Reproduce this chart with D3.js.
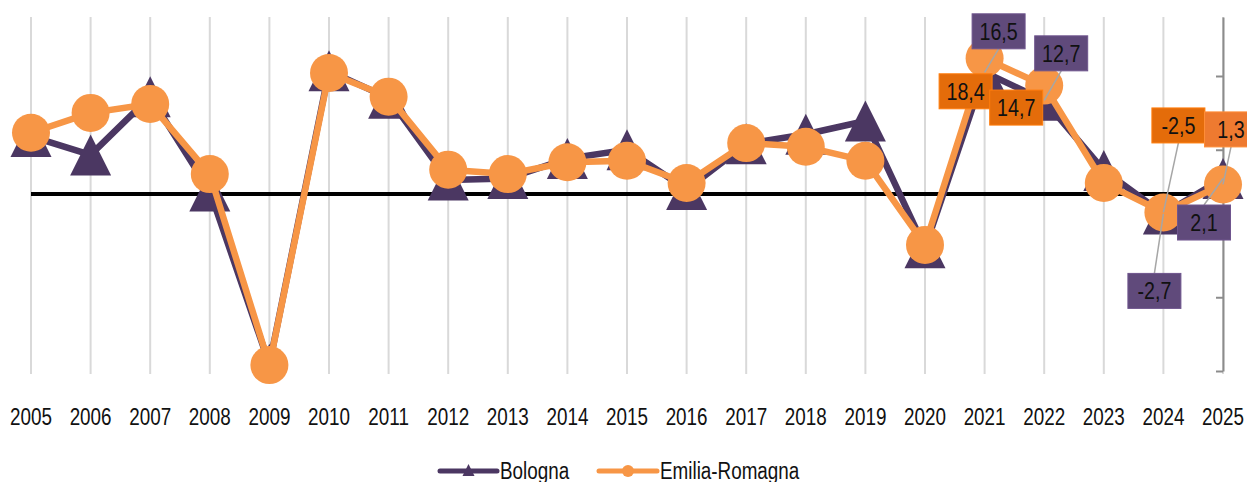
<!DOCTYPE html>
<html>
<head>
<meta charset="utf-8">
<script src="https://cdn.jsdelivr.net/npm/d3@7"></script>
<style>
  html, body { margin: 0; padding: 0; background: #fff; }
  svg { display: block; }
</style>
</head>
<body>
<div id="chart"></div>
<script>
const years = d3.range(2005, 2026);
const bologna = [7.8, 5.3, 13.2, 0.4, -23.1, 16.7, 13.0, 1.9, 2.1, 4.8, 6.0, 0.6, 6.8, 8.1, 9.9, -7.3, 16.5, 12.7, 3.2, -2.7, 2.1];
const emilia = [8.3, 11.0, 12.2, 2.7, -23.2, 16.4, 13.2, 3.3, 2.7, 4.3, 4.5, 1.5, 6.9, 6.4, 4.5, -6.9, 18.4, 14.7, 1.5, -2.5, 1.3];
const seriesNames = ['Bologna', 'Emilia-Romagna'];
const yTicks = [-24, -14, -4, 6, 16];

// which points carry a data label, and where the box sits relative to the point
const labelled = [
  { s: 0, year: 2021, dx: 14, dy: -41, leader: true },
  { s: 0, year: 2022, dx: 17, dy: -47, leader: true },
  { s: 1, year: 2021, dx: -19, dy: 33, leader: false },
  { s: 1, year: 2022, dx: -28, dy: 22, leader: false },
  { s: 1, year: 2024, dx: 15, dy: -87, leader: true },
  { s: 0, year: 2024, dx: -9, dy: 77, leader: true },
  { s: 0, year: 2025, dx: -19, dy: 44, leader: true },
  { s: 1, year: 2025, dx: 8, dy: -55, leader: true, lighter: true }
];

const W = 1247, H = 482;
const purple = '#4b3762', orange = '#f79646';
const boxPurple = '#604a7b', boxOrange = '#e46c0a', boxOrangeLight = '#ee7a30';

// narrow font if we have one, else squeeze the regular one
function hasFont(name) {
  const ctx = document.createElement('canvas').getContext('2d');
  ctx.font = `40px monospace`;
  const a = ctx.measureText('2005 Bologna').width;
  ctx.font = `40px '${name}', monospace`;
  return ctx.measureText('2005 Bologna').width !== a;
}
const narrow = hasFont('Liberation Sans Narrow');
const family = narrow ? "'Liberation Sans Narrow', 'Arial Narrow', sans-serif" : "'Liberation Sans', Arial, sans-serif";
const squeeze = narrow ? 1 : 0.82;

const svg = d3.select('#chart').append('svg')
  .attr('width', W)
  .attr('height', H)
  .style('font-family', family);

const x = d3.scalePoint().domain(years).range([31, 1223]);
const y = d3.scaleLinear().domain([-24, 24]).range([371, 17]);

svg.append('clipPath').attr('id', 'plot')
  .append('rect')
    .attr('x', 0).attr('y', y(24))
    .attr('width', W).attr('height', y(-24) - y(24) + 1);

function addText(g, str, tx, ty, size, anchor) {
  return g.append('text')
    .attr('transform', `translate(${tx},${ty}) scale(${squeeze},1)`)
    .attr('text-anchor', anchor)
    .attr('font-size', size)
    .attr('fill', '#111')
    .text(str);
}

// vertical gridlines
svg.append('g').selectAll('line')
  .data(years)
  .enter().append('line')
    .attr('x1', d => x(d)).attr('x2', d => x(d))
    .attr('y1', y(24)).attr('y2', y(-24) + 3)
    .attr('stroke', '#d9d9d9')
    .attr('stroke-width', 2);

// right-hand axis, no labels
const yAxis = svg.append('g')
  .attr('transform', `translate(${x(2025)},0)`)
  .call(d3.axisLeft(y).tickValues(yTicks).tickSize(7).tickSizeOuter(0).tickFormat(''));
yAxis.selectAll('path, line').attr('stroke', '#8c8c8c').attr('stroke-width', 2);

// zero line
svg.append('line')
  .attr('x1', x(2005)).attr('x2', x(2025))
  .attr('y1', y(0)).attr('y2', y(0))
  .attr('stroke', '#000')
  .attr('stroke-width', 4);

// year labels
const xg = svg.append('g');
years.forEach(yr => addText(xg, yr, x(yr), 425, 23, 'middle'));

function triPath(s) {
  const h = s / 2;
  return `M0,${-h}L${h},${h}L${-h},${h}Z`;
}

const line = d3.line().x((d, i) => x(years[i])).y(d => y(d));

// Bologna
svg.append('path')
  .attr('d', line(bologna))
  .attr('fill', 'none')
  .attr('stroke', purple)
  .attr('stroke-width', 6.5)
  .attr('stroke-linejoin', 'round');
svg.append('g')
  .attr('clip-path', 'url(#plot)')
  .selectAll('path')
  .data(bologna)
  .enter().append('path')
    .attr('d', triPath(41))
    .attr('transform', (d, i) => `translate(${x(years[i])},${y(d)})`)
    .attr('fill', purple);

// Emilia-Romagna
svg.append('path')
  .attr('d', line(emilia))
  .attr('fill', 'none')
  .attr('stroke', orange)
  .attr('stroke-width', 6.5)
  .attr('stroke-linejoin', 'round');
svg.append('g').selectAll('circle')
  .data(emilia)
  .enter().append('circle')
    .attr('cx', (d, i) => x(years[i]))
    .attr('cy', d => y(d))
    .attr('r', 19)
    .attr('fill', orange);

// data labels
const series = [bologna, emilia];
const lg = svg.append('g');
labelled.forEach(l => {
  const v = series[l.s][years.indexOf(l.year)];
  const px = x(l.year), py = y(v);
  const cx = px + l.dx, cy = py + l.dy;
  const str = v.toFixed(1).replace('.', ',');
  const bw = 53, bh = 35;
  if (l.leader) {
    const ey = l.dy < 0 ? cy + bh / 2 : cy - bh / 2;
    lg.append('line')
      .attr('x1', cx).attr('y1', ey)
      .attr('x2', px).attr('y2', py)
      .attr('stroke', '#a6a6a6')
      .attr('stroke-width', 1.5);
  }
  const fill = l.s === 0 ? boxPurple : (l.lighter ? boxOrangeLight : boxOrange);
  lg.append('rect')
    .attr('x', cx - bw / 2).attr('y', cy - bh / 2)
    .attr('width', bw).attr('height', bh)
    .attr('fill', fill)
    .attr('stroke', d3.color(fill).brighter(0.4))
    .attr('stroke-width', 1);
  addText(lg, str, cx, cy + 8.5, 24, 'middle');
});

// legend
const leg = svg.append('g');
const legItems = [
  { name: seriesNames[0], x0: 440, x1: 497, color: purple, marker: 'tri' },
  { name: seriesNames[1], x0: 599, x1: 657, color: orange, marker: 'dot' }
];
legItems.forEach(it => {
  leg.append('line')
    .attr('x1', it.x0).attr('x2', it.x1)
    .attr('y1', 471).attr('y2', 471)
    .attr('stroke', it.color)
    .attr('stroke-width', 5)
    .attr('stroke-linecap', 'round');
  const mx = (it.x0 + it.x1) / 2;
  if (it.marker === 'tri') {
    leg.append('path').attr('d', triPath(12)).attr('transform', `translate(${mx},470)`).attr('fill', it.color);
  } else {
    leg.append('circle').attr('cx', mx).attr('cy', 471).attr('r', 6).attr('fill', it.color);
  }
  addText(leg, it.name, it.x1 + 3, 479, 23, 'start');
});
</script>
</body>
</html>
